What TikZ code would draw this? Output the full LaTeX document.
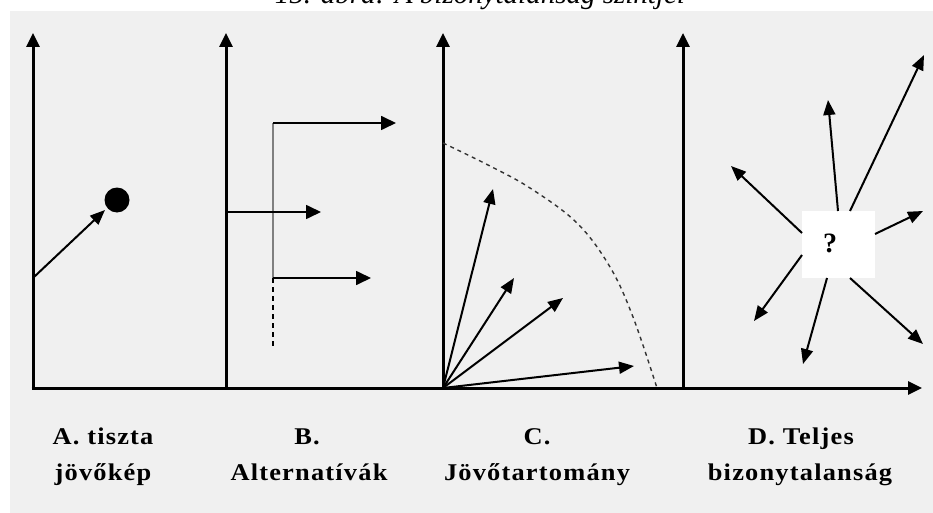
\documentclass[tikz,border=0pt]{standalone}
\usepackage{fontspec}
\setmainfont{Liberation Serif}
\newfontfamily\lblfont[LetterSpace=5,FakeStretch=1.1,BoldFont={Liberation Serif Bold}]{Liberation Serif}
\usetikzlibrary{arrows.meta}
\definecolor{bggray}{HTML}{F0F0F0}
\begin{document}
\begin{tikzpicture}[x=1pt,y=-1pt,
  axis/.style={line width=3pt,-{Triangle[length=14pt,width=13pt]}},
  arr/.style={line width=2pt,-{Triangle[length=15pt,width=12pt]}},
  barr/.style={line width=1.7pt,-{Triangle[length=15pt,width=14pt]}},
  lbl/.style={anchor=base,inner sep=0pt,font=\lblfont\bfseries\fontsize{24}{26}\selectfont},
  dashcurve/.style={line width=1.4pt,draw=black!80,dash pattern=on 4pt off 4pt}]
\useasboundingbox (0,0) rectangle (933,513);
\fill[white] (0,0) rectangle (933,513);
\fill[bggray] (10,11) rectangle (933,513);
% caption (cut off at top, as in the reference)
\begin{scope}
\clip (0,0) rectangle (933,11);
\node[anchor=base,inner sep=0pt,font=\itshape\fontsize{29}{30}\selectfont] (cap) at (480,4) {15. ábra: A bizonytalanság szintjei};
\end{scope}
% axes
\coordinate (o1) at (33,388);
\coordinate (o2) at (226,388);
\coordinate (o3) at (443,388);
\coordinate (o4) at (683,388);
\coordinate (xend) at (922,388);
\draw[axis] (31.5,388) -- (xend);
\draw[axis] (o1) -- (33,33);
\draw[axis] (o2) -- (226,33);
\draw[axis] (o3) -- (443,33);
\draw[axis] (o4) -- (683,33);
% A
\coordinate (a0) at (34,277);
\coordinate (a1) at (105,210);
\draw[arr] (a0) -- (a1);
\node[circle,fill=black,minimum size=25pt,inner sep=0pt] (dot) at (117,200) {};
% B
\coordinate (bt) at (273,123);
\coordinate (bb) at (273,278);
\coordinate (bm) at (226,212);
\coordinate (bd) at (273,347);
\draw[line width=2.5pt,black!50] (bt) -- (bb);
\draw[line width=1.5pt,dash pattern=on 5pt off 4pt] (bb) -- (bd);
\draw[barr] (bt) -- (396,123);
\draw[barr] (bm) -- (321,212);
\draw[barr] (bb) -- (371,278);
% C
\draw[arr] (o3) -- (493,189);
\draw[arr] (o3) -- (514,278);
\draw[arr] (o3) -- (563,298);
\draw[arr] (o3) -- (634,366);
\draw[dashcurve] plot[smooth,tension=0.6] coordinates {(443,143) (488,165) (530,188) (577,223) (610,267) (633,317) (657,388)};
% D
\node[fill=white,minimum width=73pt,minimum height=67pt,inner sep=0pt] (q) at (838.5,244.5) {};
\node[inner sep=0pt,font=\bfseries\fontsize{28}{30}\selectfont] (qm) at (830,243) {?};
\coordinate (d1s) at (838,211);   \coordinate (d1e) at (828,100);
\coordinate (d2s) at (850,211);   \coordinate (d2e) at (924,55);
\coordinate (d3s) at (875,234);   \coordinate (d3e) at (923,211);
\coordinate (d4s) at (850,278);   \coordinate (d4e) at (923,344);
\coordinate (d5s) at (827,278);   \coordinate (d5e) at (803,364);
\coordinate (d6s) at (802,255);   \coordinate (d6e) at (754,321);
\coordinate (d7s) at (802,233);   \coordinate (d7e) at (731,166);
\foreach \i in {1,...,7} {\draw[arr] (d\i s) -- (d\i e);}
% labels
\node[lbl] (la1) at (103,444) {A. tiszta};
\node[lbl] (la2) at (103,480) {jövőkép};
\node[lbl] (lb1) at (307,444) {B.};
\node[lbl] (lb2) at (309,480) {Alternatívák};
\node[lbl] (lc1) at (537,444) {C.};
\node[lbl] (lc2) at (537,480) {Jövőtartomány};
\node[lbl] (ld1) at (801,444) {D. Teljes};
\node[lbl] (ld2) at (800,480) {bizonytalanság};
\end{tikzpicture}
\end{document}
